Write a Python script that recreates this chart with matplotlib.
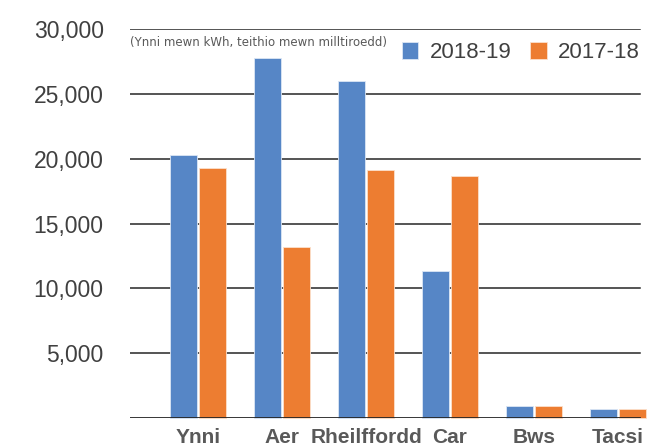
import numpy as np
import matplotlib
matplotlib.use('Agg')
import matplotlib.pyplot as plt

categories = ['Ynni', 'Aer', 'Rheilffordd', 'Car', 'Bws', 'Tacsi']
values_2018_19 = [20300, 27800, 26000, 11300, 900, 680]
values_2017_18 = [19300, 13200, 19100, 18700, 900, 680]
yticks = [5000, 10000, 15000, 20000, 25000, 30000]

BLUE = '#5686c6'
ORANGE = '#ed7d31'

plt.rcParams['font.family'] = ['Liberation Sans', 'DejaVu Sans']

fig = plt.figure(figsize=(6.47, 4.46), dpi=100)
ax = fig.add_axes([130/647, 28/446, 517/647, 389/446])

x = np.arange(len(categories))
w = 0.32
off = 0.176
ax.bar(x - off, values_2018_19, w, color=BLUE, edgecolor='#dce6f4', linewidth=0.6,
       label='2018-19', zorder=3, clip_on=False)
ax.bar(x + off, values_2017_18, w, color=ORANGE, edgecolor='#fbe0cc', linewidth=0.6,
       label='2017-18', zorder=3, clip_on=False)

ax.set_ylim(0, 30000)
ax.set_xlim(-0.81, 5.345)

# gridlines stop a little short of the right edge
for t in yticks:
    ax.axhline(t, xmin=0, xmax=0.986, color='#262626', linewidth=1.1, zorder=1)
ax.axhline(0, xmin=0, xmax=0.986, color='#262626', linewidth=1.3, zorder=4)

for s in ax.spines.values():
    s.set_visible(False)

ax.set_yticks(yticks)
ax.set_yticklabels(['{:,}'.format(t) for t in yticks], fontsize=16.5, color='#404040')
ax.tick_params(axis='y', length=0, pad=19)

ax.set_xticks(x)
ax.set_xticklabels(categories, fontsize=15, fontweight='bold', color='#595959')
ax.tick_params(axis='x', length=0, pad=7)

ax.text(0.0, 0.966, '(Ynni mewn kWh, teithio mewn milltiroedd)', transform=ax.transAxes,
        fontsize=8.5, family='DejaVu Sans', color='#595959', va='center', ha='left')

leg = ax.legend(loc='upper right', bbox_to_anchor=(1.012, 1.0), ncol=2, frameon=False,
                fontsize=16, handlelength=0.75, handleheight=0.75, handletextpad=0.5,
                columnspacing=0.85, borderaxespad=0.2)
for t in leg.get_texts():
    t.set_color('#404040')

fig.savefig('out.png', dpi=100)
